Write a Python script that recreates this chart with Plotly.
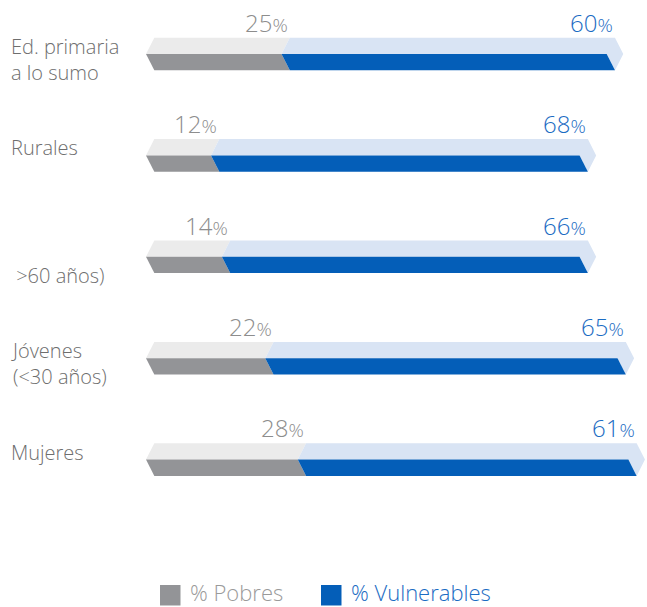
import plotly.graph_objects as go

# Share of each group that is poor / vulnerable (%)
categories = [
    ["Ed. primaria", "a lo sumo"],
    ["Rurales"],
    ["", "\u00a0&gt;60 años)"],
    ["Jóvenes", "(&lt;30 años)"],
    ["Mujeres"],
]
pobres = [25, 12, 14, 22, 28]
vulnerables = [60, 68, 66, 65, 61]
legend_labels = ["% Pobres", "% Vulnerables"]

# Palette
LIGHT_GRAY = "#EBEBEB"
DARK_GRAY = "#939497"
LIGHT_BLUE = "#D9E4F4"
DARK_BLUE = "#045EB8"
PCT_GRAY = "#8D8D8D"
PCT_BLUE = "#1B6CC3"
CAT_TEXT = "#6E6E6E"
LEG_GRAY = "#9A9A9A"

FONT = "Open Sans"
W, H = 647, 607

# Axis ranges (data units): 1% ~ 5.42 px, one row ~ 101.4 px
X_RANGE = [-26.94, 92.44]
Y_RANGE = [5.4536, -0.5325]
px_x = (X_RANGE[1] - X_RANGE[0]) / W
px_y = (Y_RANGE[0] - Y_RANGE[1]) / H

HALF = 16.3 * px_y      # half height of the bar (top face / front face)
SLANT = 8.3 * px_x      # horizontal shear of the faces
CAT_SIZE = 20
LINE_H = CAT_SIZE * 1.3  # plotly line spacing for multi-line text

fig = go.Figure()


def poly(xs, ys, color):
    fig.add_trace(go.Scatter(
        x=xs + [xs[0]], y=ys + [ys[0]], mode="lines", fill="toself",
        fillcolor=color, line=dict(width=0, color=color),
        hoverinfo="skip", showlegend=False,
    ))


annotations = []
for i, (p, v) in enumerate(zip(pobres, vulnerables)):
    t = p + v
    top, mid, bot = i - HALF, i, i + HALF
    # top face, poor segment
    poly([SLANT, p + SLANT, p, 0], [top, top, mid, mid], LIGHT_GRAY)
    # top face, vulnerable segment with arrow tip
    poly([p + SLANT, t + SLANT, t + 2 * SLANT, t + SLANT, t, p],
         [top, top, mid, bot, mid, mid], LIGHT_BLUE)
    # front face, poor segment
    poly([0, p, p + SLANT, SLANT], [mid, mid, bot, bot], DARK_GRAY)
    # front face, vulnerable segment
    poly([p, t, t + SLANT, p + SLANT], [mid, mid, bot, bot], DARK_BLUE)

    label_y = top - 15.5 * px_y
    annotations.append(dict(
        x=p + SLANT, y=label_y, xref="x", yref="y", xanchor="right", yanchor="middle",
        text=f"{p}<span style='font-size:19px'>%</span>", showarrow=False,
        font=dict(family=FONT, size=24, color=PCT_GRAY, weight=300),
    ))
    annotations.append(dict(
        x=t + SLANT, y=label_y, xref="x", yref="y", xanchor="right", yanchor="middle",
        text=f"{v}<span style='font-size:19px'>%</span>", showarrow=False,
        font=dict(family=FONT, size=24, color=PCT_BLUE, weight=300),
    ))

    # category label: first text line sits slightly above the bar's mid line
    lines = categories[i]
    first = next(k for k, s in enumerate(lines) if s)
    shown = [s for s in lines if s]
    center = -7.5 + LINE_H * (first + (len(shown) - 1) / 2)
    annotations.append(dict(
        x=9 / W, y=i + center * px_y, xref="paper", yref="y",
        xanchor="left", yanchor="middle", align="left",
        text="<br>".join(shown), showarrow=False,
        font=dict(family=FONT, size=CAT_SIZE, color=CAT_TEXT, weight=300),
    ))

# legend
shapes = []
legend_items = [(legend_labels[0], DARK_GRAY, LEG_GRAY, 160),
                (legend_labels[1], DARK_BLUE, PCT_BLUE, 321)]
for label, sq_color, txt_color, x0 in legend_items:
    shapes.append(dict(
        type="rect", xref="paper", yref="paper",
        x0=x0 / W, x1=(x0 + 20.5) / W, y0=1 - 585 / H, y1=1 - 605.5 / H,
        fillcolor=sq_color, line=dict(width=0),
    ))
    annotations.append(dict(
        x=(x0 + 28) / W, y=1 - 591.5 / H, xref="paper", yref="paper",
        xanchor="left", yanchor="middle", text=label, showarrow=False,
        font=dict(family=FONT, size=22, color=txt_color, weight=300),
    ))

fig.update_layout(
    width=W, height=H,
    margin=dict(l=0, r=0, t=0, b=0),
    paper_bgcolor="white", plot_bgcolor="white",
    xaxis=dict(range=X_RANGE, visible=False, fixedrange=True),
    yaxis=dict(range=Y_RANGE, visible=False, fixedrange=True),
    annotations=annotations, shapes=shapes,
    showlegend=False,
)

fig.write_html("out.html")
